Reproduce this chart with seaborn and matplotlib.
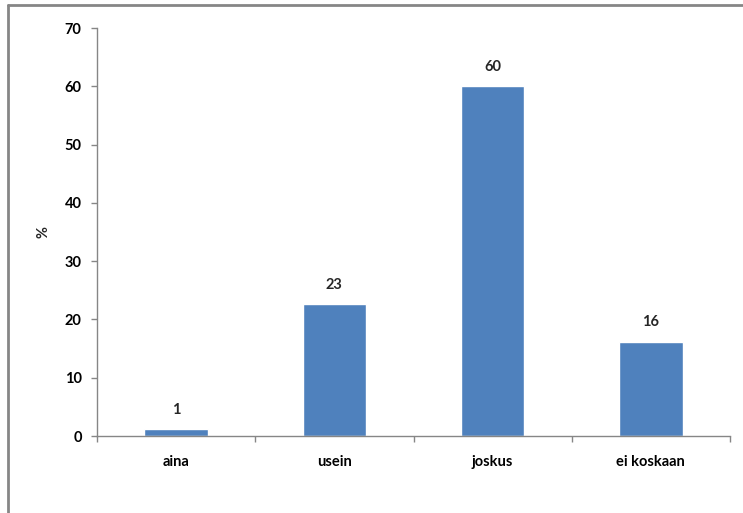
import matplotlib
matplotlib.use("Agg")
import matplotlib.pyplot as plt
from matplotlib.lines import Line2D
import seaborn as sns
import pandas as pd

categories = ["aina", "usein", "joskus", "ei koskaan"]
values = [1.2, 22.6, 60.0, 16.2]
y_ticks = [0, 10, 20, 30, 40, 50, 60, 70]

sns.set_theme(style="white")
plt.rcParams["font.family"] = ["Lato", "DejaVu Sans"]

axis_gray = "#868686"
bar_blue = "#4F81BD"
fs = 10.5

fig = plt.figure(figsize=(7.43, 5.13), dpi=100)
ax = fig.add_axes([97 / 743, 1 - 436 / 513, (730 - 97) / 743, (436 - 28) / 513])

df = pd.DataFrame({"category": categories, "value": values})
sns.barplot(data=df, x="category", y="value", color=bar_blue, saturation=1,
            width=0.4, ax=ax)

ax.set_xlim(-0.5, len(categories) - 0.5)
ax.set_ylim(0, 70)
ax.set_yticks(y_ticks)
ax.set_yticklabels([str(t) for t in y_ticks], fontsize=fs, fontweight="bold")
ax.set_xticks(range(len(categories)))
ax.set_xticklabels(categories, fontsize=fs, fontweight="bold")
ax.set_xticks([i - 0.5 for i in range(len(categories) + 1)], minor=True)

ax.tick_params(axis="x", which="major", length=0, pad=14, colors="black")
ax.tick_params(axis="x", which="minor", length=4, width=1, color=axis_gray,
               direction="out", bottom=True)
ax.tick_params(axis="y", which="major", length=4, width=1, color=axis_gray,
               direction="out", left=True, pad=7, labelcolor="black")

for side in ("top", "right"):
    ax.spines[side].set_visible(False)
for side in ("left", "bottom"):
    ax.spines[side].set_color(axis_gray)
    ax.spines[side].set_linewidth(1)

ax.set_xlabel("")
ax.set_ylabel("%", fontsize=fs, fontweight="bold", labelpad=10)

for container in ax.containers:
    ax.bar_label(container, labels=[f"{v:.0f}" for v in values], padding=9,
                 fontsize=fs, fontweight="bold")

# frame around the chart area
fig.add_artist(Line2D([8 / 743, 1], [1 - 4.5 / 513, 1 - 4.5 / 513],
                      transform=fig.transFigure, color=axis_gray, linewidth=2))
fig.add_artist(Line2D([8 / 743, 8 / 743], [0, 1 - 4.5 / 513],
                      transform=fig.transFigure, color=axis_gray, linewidth=2))

fig.savefig("out.png", dpi=100)
